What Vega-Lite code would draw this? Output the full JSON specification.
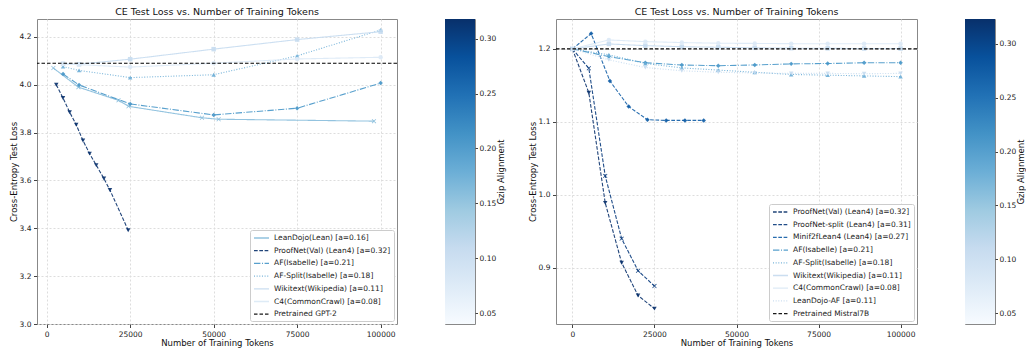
{
  "$schema": "https://vega.github.io/schema/vega-lite/v6.json",
  "padding": {"left": 8, "top": 6, "right": 0, "bottom": 0},
  "background": "white",
  "config": {
    "font": "DejaVu Sans",
    "view": {"stroke": "#888888", "strokeWidth": 1},
    "axis": {
      "labelFont": "DejaVu Sans", "labelFontSize": 7.5, "labelColor": "#222222",
      "titleFont": "DejaVu Sans", "titleFontSize": 8.5, "titleFontWeight": "normal", "titleColor": "#111111",
      "tickColor": "#444444", "tickSize": 3.5, "domain": false,
      "gridColor": "#dddddd", "gridDash": [2, 2], "labelPadding": 2.5, "titlePadding": 1
    },
    "legend": {
      "labelFont": "DejaVu Sans", "labelFontSize": 7.5, "labelColor": "#222222",
      "labelLimit": 300
    },
    "title": {"font": "DejaVu Sans", "fontSize": 9.5, "fontWeight": "normal", "color": "#111111", "offset": 3}
  },
  "datasets": {
    "left": [
      {"series": "LeanDojo(Lean) [a=0.16]", "tokens": 2000, "loss": 4.07},
      {"series": "LeanDojo(Lean) [a=0.16]", "tokens": 9500, "loss": 3.99},
      {"series": "LeanDojo(Lean) [a=0.16]", "tokens": 21500, "loss": 3.935},
      {"series": "LeanDojo(Lean) [a=0.16]", "tokens": 24500, "loss": 3.91},
      {"series": "LeanDojo(Lean) [a=0.16]", "tokens": 46500, "loss": 3.862},
      {"series": "LeanDojo(Lean) [a=0.16]", "tokens": 51500, "loss": 3.856},
      {"series": "LeanDojo(Lean) [a=0.16]", "tokens": 98000, "loss": 3.848},
      {"series": "ProofNet(Val) (Lean4) [a=0.32]", "tokens": 2870, "loss": 4.0},
      {"series": "ProofNet(Val) (Lean4) [a=0.32]", "tokens": 4880, "loss": 3.945},
      {"series": "ProofNet(Val) (Lean4) [a=0.32]", "tokens": 6880, "loss": 3.885},
      {"series": "ProofNet(Val) (Lean4) [a=0.32]", "tokens": 8850, "loss": 3.833},
      {"series": "ProofNet(Val) (Lean4) [a=0.32]", "tokens": 10860, "loss": 3.767},
      {"series": "ProofNet(Val) (Lean4) [a=0.32]", "tokens": 12860, "loss": 3.712},
      {"series": "ProofNet(Val) (Lean4) [a=0.32]", "tokens": 14840, "loss": 3.664},
      {"series": "ProofNet(Val) (Lean4) [a=0.32]", "tokens": 17140, "loss": 3.608},
      {"series": "ProofNet(Val) (Lean4) [a=0.32]", "tokens": 18940, "loss": 3.56},
      {"series": "ProofNet(Val) (Lean4) [a=0.32]", "tokens": 24410, "loss": 3.392},
      {"series": "AF(Isabelle) [a=0.21]", "tokens": 4900, "loss": 4.045},
      {"series": "AF(Isabelle) [a=0.21]", "tokens": 9700, "loss": 3.999},
      {"series": "AF(Isabelle) [a=0.21]", "tokens": 25000, "loss": 3.92},
      {"series": "AF(Isabelle) [a=0.21]", "tokens": 50000, "loss": 3.874},
      {"series": "AF(Isabelle) [a=0.21]", "tokens": 75000, "loss": 3.902},
      {"series": "AF(Isabelle) [a=0.21]", "tokens": 100000, "loss": 4.007},
      {"series": "AF-Split(Isabelle) [a=0.18]", "tokens": 4900, "loss": 4.076},
      {"series": "AF-Split(Isabelle) [a=0.18]", "tokens": 9700, "loss": 4.06},
      {"series": "AF-Split(Isabelle) [a=0.18]", "tokens": 25000, "loss": 4.03},
      {"series": "AF-Split(Isabelle) [a=0.18]", "tokens": 50000, "loss": 4.042},
      {"series": "AF-Split(Isabelle) [a=0.18]", "tokens": 75000, "loss": 4.121},
      {"series": "AF-Split(Isabelle) [a=0.18]", "tokens": 100000, "loss": 4.229},
      {"series": "Wikitext(Wikipedia) [a=0.11]", "tokens": 4900, "loss": 4.088},
      {"series": "Wikitext(Wikipedia) [a=0.11]", "tokens": 9700, "loss": 4.086},
      {"series": "Wikitext(Wikipedia) [a=0.11]", "tokens": 25000, "loss": 4.107},
      {"series": "Wikitext(Wikipedia) [a=0.11]", "tokens": 50000, "loss": 4.149},
      {"series": "Wikitext(Wikipedia) [a=0.11]", "tokens": 75000, "loss": 4.189},
      {"series": "Wikitext(Wikipedia) [a=0.11]", "tokens": 100000, "loss": 4.222},
      {"series": "C4(CommonCrawl) [a=0.08]", "tokens": 4900, "loss": 4.087},
      {"series": "C4(CommonCrawl) [a=0.08]", "tokens": 9700, "loss": 4.084},
      {"series": "C4(CommonCrawl) [a=0.08]", "tokens": 25000, "loss": 4.074},
      {"series": "C4(CommonCrawl) [a=0.08]", "tokens": 50000, "loss": 4.09},
      {"series": "C4(CommonCrawl) [a=0.08]", "tokens": 75000, "loss": 4.108},
      {"series": "C4(CommonCrawl) [a=0.08]", "tokens": 100000, "loss": 4.115}
    ],
    "leftBase": [{"series": "Pretrained GPT-2", "loss": 4.09}],
    "right": [
      {"series": "ProofNet(Val) (Lean4) [a=0.32]", "tokens": 0, "loss": 1.2},
      {"series": "ProofNet(Val) (Lean4) [a=0.32]", "tokens": 5000, "loss": 1.14},
      {"series": "ProofNet(Val) (Lean4) [a=0.32]", "tokens": 10000, "loss": 0.989},
      {"series": "ProofNet(Val) (Lean4) [a=0.32]", "tokens": 15000, "loss": 0.907},
      {"series": "ProofNet(Val) (Lean4) [a=0.32]", "tokens": 20000, "loss": 0.862},
      {"series": "ProofNet(Val) (Lean4) [a=0.32]", "tokens": 25000, "loss": 0.844},
      {"series": "ProofNet-split (Lean4) [a=0.31]", "tokens": 0, "loss": 1.2},
      {"series": "ProofNet-split (Lean4) [a=0.31]", "tokens": 5000, "loss": 1.1735},
      {"series": "ProofNet-split (Lean4) [a=0.31]", "tokens": 10000, "loss": 1.026},
      {"series": "ProofNet-split (Lean4) [a=0.31]", "tokens": 15000, "loss": 0.94},
      {"series": "ProofNet-split (Lean4) [a=0.31]", "tokens": 20000, "loss": 0.896},
      {"series": "ProofNet-split (Lean4) [a=0.31]", "tokens": 25000, "loss": 0.875},
      {"series": "Minif2fLean4 (Lean4) [a=0.27]", "tokens": 0, "loss": 1.2},
      {"series": "Minif2fLean4 (Lean4) [a=0.27]", "tokens": 5714, "loss": 1.221},
      {"series": "Minif2fLean4 (Lean4) [a=0.27]", "tokens": 11429, "loss": 1.156},
      {"series": "Minif2fLean4 (Lean4) [a=0.27]", "tokens": 17143, "loss": 1.121},
      {"series": "Minif2fLean4 (Lean4) [a=0.27]", "tokens": 22857, "loss": 1.103},
      {"series": "Minif2fLean4 (Lean4) [a=0.27]", "tokens": 28571, "loss": 1.102},
      {"series": "Minif2fLean4 (Lean4) [a=0.27]", "tokens": 34286, "loss": 1.102},
      {"series": "Minif2fLean4 (Lean4) [a=0.27]", "tokens": 40000, "loss": 1.102},
      {"series": "AF(Isabelle) [a=0.21]", "tokens": 0, "loss": 1.2},
      {"series": "AF(Isabelle) [a=0.21]", "tokens": 11111, "loss": 1.1895},
      {"series": "AF(Isabelle) [a=0.21]", "tokens": 22222, "loss": 1.181},
      {"series": "AF(Isabelle) [a=0.21]", "tokens": 33333, "loss": 1.178},
      {"series": "AF(Isabelle) [a=0.21]", "tokens": 44444, "loss": 1.177},
      {"series": "AF(Isabelle) [a=0.21]", "tokens": 55556, "loss": 1.178},
      {"series": "AF(Isabelle) [a=0.21]", "tokens": 66667, "loss": 1.1795},
      {"series": "AF(Isabelle) [a=0.21]", "tokens": 77778, "loss": 1.18},
      {"series": "AF(Isabelle) [a=0.21]", "tokens": 88889, "loss": 1.181},
      {"series": "AF(Isabelle) [a=0.21]", "tokens": 100000, "loss": 1.181},
      {"series": "AF-Split(Isabelle) [a=0.18]", "tokens": 0, "loss": 1.2},
      {"series": "AF-Split(Isabelle) [a=0.18]", "tokens": 11111, "loss": 1.192},
      {"series": "AF-Split(Isabelle) [a=0.18]", "tokens": 22222, "loss": 1.18},
      {"series": "AF-Split(Isabelle) [a=0.18]", "tokens": 33333, "loss": 1.174},
      {"series": "AF-Split(Isabelle) [a=0.18]", "tokens": 44444, "loss": 1.171},
      {"series": "AF-Split(Isabelle) [a=0.18]", "tokens": 55556, "loss": 1.168},
      {"series": "AF-Split(Isabelle) [a=0.18]", "tokens": 66667, "loss": 1.165},
      {"series": "AF-Split(Isabelle) [a=0.18]", "tokens": 77778, "loss": 1.164},
      {"series": "AF-Split(Isabelle) [a=0.18]", "tokens": 88889, "loss": 1.163},
      {"series": "AF-Split(Isabelle) [a=0.18]", "tokens": 100000, "loss": 1.162},
      {"series": "Wikitext(Wikipedia) [a=0.11]", "tokens": 0, "loss": 1.2},
      {"series": "Wikitext(Wikipedia) [a=0.11]", "tokens": 11111, "loss": 1.2068},
      {"series": "Wikitext(Wikipedia) [a=0.11]", "tokens": 22222, "loss": 1.2045},
      {"series": "Wikitext(Wikipedia) [a=0.11]", "tokens": 33333, "loss": 1.203},
      {"series": "Wikitext(Wikipedia) [a=0.11]", "tokens": 44444, "loss": 1.2023},
      {"series": "Wikitext(Wikipedia) [a=0.11]", "tokens": 55556, "loss": 1.2015},
      {"series": "Wikitext(Wikipedia) [a=0.11]", "tokens": 66667, "loss": 1.201},
      {"series": "Wikitext(Wikipedia) [a=0.11]", "tokens": 77778, "loss": 1.2008},
      {"series": "Wikitext(Wikipedia) [a=0.11]", "tokens": 88889, "loss": 1.2005},
      {"series": "Wikitext(Wikipedia) [a=0.11]", "tokens": 100000, "loss": 1.2005},
      {"series": "C4(CommonCrawl) [a=0.08]", "tokens": 0, "loss": 1.2},
      {"series": "C4(CommonCrawl) [a=0.08]", "tokens": 11111, "loss": 1.2123},
      {"series": "C4(CommonCrawl) [a=0.08]", "tokens": 22222, "loss": 1.21},
      {"series": "C4(CommonCrawl) [a=0.08]", "tokens": 33333, "loss": 1.2087},
      {"series": "C4(CommonCrawl) [a=0.08]", "tokens": 44444, "loss": 1.2078},
      {"series": "C4(CommonCrawl) [a=0.08]", "tokens": 55556, "loss": 1.2075},
      {"series": "C4(CommonCrawl) [a=0.08]", "tokens": 66667, "loss": 1.2072},
      {"series": "C4(CommonCrawl) [a=0.08]", "tokens": 77778, "loss": 1.207},
      {"series": "C4(CommonCrawl) [a=0.08]", "tokens": 88889, "loss": 1.207},
      {"series": "C4(CommonCrawl) [a=0.08]", "tokens": 100000, "loss": 1.207},
      {"series": "LeanDojo-AF [a=0.11]", "tokens": 0, "loss": 1.2},
      {"series": "LeanDojo-AF [a=0.11]", "tokens": 11111, "loss": 1.185},
      {"series": "LeanDojo-AF [a=0.11]", "tokens": 22222, "loss": 1.1745},
      {"series": "LeanDojo-AF [a=0.11]", "tokens": 33333, "loss": 1.17},
      {"series": "LeanDojo-AF [a=0.11]", "tokens": 44444, "loss": 1.168},
      {"series": "LeanDojo-AF [a=0.11]", "tokens": 55556, "loss": 1.167},
      {"series": "LeanDojo-AF [a=0.11]", "tokens": 66667, "loss": 1.1665},
      {"series": "LeanDojo-AF [a=0.11]", "tokens": 77778, "loss": 1.1665},
      {"series": "LeanDojo-AF [a=0.11]", "tokens": 88889, "loss": 1.166},
      {"series": "LeanDojo-AF [a=0.11]", "tokens": 100000, "loss": 1.1665}
    ],
    "rightBase": [{"series": "Pretrained Mistral7B", "loss": 1.2}],
    "cbarLeft": [{"lo": 0.04, "hi": 0.318}],
    "cbarRight": [{"lo": 0.04, "hi": 0.323}]
  },
  "spacing": 21,
  "hconcat": [
    {
      "bounds": "flush",
      "spacing": 48,
      "resolve": {
        "scale": {"x": "independent", "y": "independent", "color": "independent", "strokeDash": "independent", "shape": "independent"},
        "legend": {"color": "independent", "strokeDash": "independent", "shape": "independent"}
      },
      "hconcat": [
        {
          "width": 360,
          "height": 305,
          "title": "CE Test Loss vs. Number of Training Tokens",
          "encoding": {
            "x": {"field": "tokens", "type": "quantitative",
              "scale": {"domain": [-2900, 104900], "nice": false, "zero": false},
              "axis": {"values": [0, 25000, 50000, 75000, 100000], "format": "d", "title": "Number of Training Tokens"}},
            "y": {"field": "loss", "type": "quantitative",
              "scale": {"domain": [3.0, 4.275], "nice": false, "zero": false},
              "axis": {"values": [3.0, 3.2, 3.4, 3.6, 3.8, 4.0, 4.2], "format": ".1f", "title": "Cross-Entropy Test Loss"}},
            "color": {"field": "series", "type": "nominal",
              "scale": {
                "domain": ["LeanDojo(Lean) [a=0.16]", "ProofNet(Val) (Lean4) [a=0.32]", "AF(Isabelle) [a=0.21]", "AF-Split(Isabelle) [a=0.18]", "Wikitext(Wikipedia) [a=0.11]", "C4(CommonCrawl) [a=0.08]", "Pretrained GPT-2"],
                "range": ["#87bddc", "#08306b", "#4696c8", "#6aadd6", "#c6dbef", "#dbe9f6", "#000000"]},
              "legend": {"title": null, "orient": "bottom-right", "offset": 3, "fillColor": "white", "strokeColor": "#cccccc", "cornerRadius": 2, "padding": 3, "rowPadding": 3.7, "symbolType": "M-1,0L2.75,0", "symbolSize": 64, "symbolStrokeWidth": 1.3, "labelOffset": 11}},
            "strokeDash": {"field": "series", "type": "nominal",
              "scale": {
                "domain": ["LeanDojo(Lean) [a=0.16]", "ProofNet(Val) (Lean4) [a=0.32]", "AF(Isabelle) [a=0.21]", "AF-Split(Isabelle) [a=0.18]", "Wikitext(Wikipedia) [a=0.11]", "C4(CommonCrawl) [a=0.08]", "Pretrained GPT-2"],
                "range": [[1, 0], [3.7, 1.6], [6.4, 1.6, 1, 1.6], [1, 1.65], [1, 0], [1, 0], [3.5, 2]]},
              "legend": {"title": null, "orient": "bottom-right", "offset": 3, "fillColor": "white", "strokeColor": "#cccccc", "cornerRadius": 2, "padding": 3, "rowPadding": 3.7, "symbolType": "M-1,0L2.75,0", "symbolSize": 64, "symbolStrokeWidth": 1.3, "labelOffset": 11}}
          },
          "layer": [
            {
              "data": {"name": "left"},
              "mark": {"type": "line", "strokeWidth": 1.1, "opacity": 0.9}
            },
            {
              "data": {"name": "left"},
              "mark": {"type": "point", "filled": true, "size": 20, "opacity": 0.9},
              "encoding": {
                "strokeDash": {"value": [1, 0]},
                "shape": {"field": "series", "type": "nominal", "legend": null,
                  "scale": {
                    "domain": ["LeanDojo(Lean) [a=0.16]", "ProofNet(Val) (Lean4) [a=0.32]", "AF(Isabelle) [a=0.21]", "AF-Split(Isabelle) [a=0.18]", "Wikitext(Wikipedia) [a=0.11]", "C4(CommonCrawl) [a=0.08]"],
                    "range": ["M-1,-0.75L-0.75,-1L0,-0.25L0.75,-1L1,-0.75L0.25,0L1,0.75L0.75,1L0,0.25L-0.75,1L-1,0.75L-0.25,0Z", "triangle-down", "diamond", "triangle-up", "square", "circle"]}}
              }
            },
            {
              "data": {"name": "leftBase"},
              "mark": {"type": "rule", "strokeWidth": 1.2},
              "encoding": {"x": null}
            }
          ]
        },
        {
          "width": 30,
          "height": 305,
          "data": {"name": "cbarLeft"},
          "mark": {"type": "rect", "color": {"gradient": "linear", "x1": 0, "y1": 1, "x2": 0, "y2": 0,
            "stops": [
              {"offset": 0, "color": "#f7fbff"}, {"offset": 0.125, "color": "#deebf7"}, {"offset": 0.25, "color": "#c6dbef"},
              {"offset": 0.375, "color": "#9ecae1"}, {"offset": 0.5, "color": "#6baed6"}, {"offset": 0.625, "color": "#4292c6"},
              {"offset": 0.75, "color": "#2171b5"}, {"offset": 0.875, "color": "#08519c"}, {"offset": 1, "color": "#08306b"}]}},
          "encoding": {
            "x": {"value": 0},
            "x2": {"value": "width"},
            "y": {"field": "lo", "type": "quantitative",
              "scale": {"domain": [0.04, 0.318], "nice": false, "zero": false},
              "axis": {"orient": "right", "grid": false, "values": [0.05, 0.1, 0.15, 0.2, 0.25, 0.3], "format": ".2f", "title": "Gzip Alignment", "titleAngle": 270, "titleBaseline": "top", "titlePadding": 0.5, "tickSize": 2.5, "labelPadding": 1.5}},
            "y2": {"field": "hi"}
          }
        }
      ]
    },
    {
      "bounds": "flush",
      "spacing": 48,
      "resolve": {
        "scale": {"x": "independent", "y": "independent", "color": "independent", "strokeDash": "independent", "shape": "independent"},
        "legend": {"color": "independent", "strokeDash": "independent", "shape": "independent"}
      },
      "hconcat": [
        {
          "width": 361,
          "height": 305,
          "title": "CE Test Loss vs. Number of Training Tokens",
          "encoding": {
            "x": {"field": "tokens", "type": "quantitative",
              "scale": {"domain": [-5000, 105000], "nice": false, "zero": false},
              "axis": {"values": [0, 25000, 50000, 75000, 100000], "format": "d", "title": "Number of Training Tokens"}},
            "y": {"field": "loss", "type": "quantitative",
              "scale": {"domain": [0.823, 1.241], "nice": false, "zero": false},
              "axis": {"values": [0.9, 1.0, 1.1, 1.2], "format": ".1f", "title": "Cross-Entropy Test Loss"}},
            "color": {"field": "series", "type": "nominal",
              "scale": {
                "domain": ["ProofNet(Val) (Lean4) [a=0.32]", "ProofNet-split (Lean4) [a=0.31]", "Minif2fLean4 (Lean4) [a=0.27]", "AF(Isabelle) [a=0.21]", "AF-Split(Isabelle) [a=0.18]", "Wikitext(Wikipedia) [a=0.11]", "C4(CommonCrawl) [a=0.08]", "LeanDojo-AF [a=0.11]", "Pretrained Mistral7B"],
                "range": ["#08306b", "#083a7c", "#115da6", "#4696c8", "#6aadd6", "#c6dbef", "#dbe9f6", "#c6dbef", "#000000"]},
              "legend": {"title": null, "orient": "bottom-right", "offset": 3, "fillColor": "white", "strokeColor": "#cccccc", "cornerRadius": 2, "padding": 3, "rowPadding": 3.7, "symbolType": "M-1,0L2.75,0", "symbolSize": 64, "symbolStrokeWidth": 1.3, "labelOffset": 11}},
            "strokeDash": {"field": "series", "type": "nominal",
              "scale": {
                "domain": ["ProofNet(Val) (Lean4) [a=0.32]", "ProofNet-split (Lean4) [a=0.31]", "Minif2fLean4 (Lean4) [a=0.27]", "AF(Isabelle) [a=0.21]", "AF-Split(Isabelle) [a=0.18]", "Wikitext(Wikipedia) [a=0.11]", "C4(CommonCrawl) [a=0.08]", "LeanDojo-AF [a=0.11]", "Pretrained Mistral7B"],
                "range": [[3.7, 1.6], [3.7, 1.6], [3.7, 1.6], [6.4, 1.6, 1, 1.6], [1, 1.65], [1, 0], [1, 0], [1, 1.65], [3.5, 2]]},
              "legend": {"title": null, "orient": "bottom-right", "offset": 3, "fillColor": "white", "strokeColor": "#cccccc", "cornerRadius": 2, "padding": 3, "rowPadding": 3.7, "symbolType": "M-1,0L2.75,0", "symbolSize": 64, "symbolStrokeWidth": 1.3, "labelOffset": 11}}
          },
          "layer": [
            {
              "data": {"name": "right"},
              "mark": {"type": "line", "strokeWidth": 1.1, "opacity": 0.9}
            },
            {
              "data": {"name": "right"},
              "mark": {"type": "point", "filled": true, "size": 20, "opacity": 0.9},
              "encoding": {
                "strokeDash": {"value": [1, 0]},
                "shape": {"field": "series", "type": "nominal", "legend": null,
                  "scale": {
                    "domain": ["ProofNet(Val) (Lean4) [a=0.32]", "ProofNet-split (Lean4) [a=0.31]", "Minif2fLean4 (Lean4) [a=0.27]", "AF(Isabelle) [a=0.21]", "AF-Split(Isabelle) [a=0.18]", "Wikitext(Wikipedia) [a=0.11]", "C4(CommonCrawl) [a=0.08]", "LeanDojo-AF [a=0.11]"],
                    "range": ["triangle-down", "M-1,-0.75L-0.75,-1L0,-0.25L0.75,-1L1,-0.75L0.25,0L1,0.75L0.75,1L0,0.25L-0.75,1L-1,0.75L-0.25,0Z", "diamond", "diamond", "triangle-up", "square", "circle", "triangle-down"]}}
              }
            },
            {
              "data": {"name": "rightBase"},
              "mark": {"type": "rule", "strokeWidth": 1.2},
              "encoding": {"x": null}
            }
          ]
        },
        {
          "width": 30,
          "height": 305,
          "data": {"name": "cbarRight"},
          "mark": {"type": "rect", "color": {"gradient": "linear", "x1": 0, "y1": 1, "x2": 0, "y2": 0,
            "stops": [
              {"offset": 0, "color": "#f7fbff"}, {"offset": 0.125, "color": "#deebf7"}, {"offset": 0.25, "color": "#c6dbef"},
              {"offset": 0.375, "color": "#9ecae1"}, {"offset": 0.5, "color": "#6baed6"}, {"offset": 0.625, "color": "#4292c6"},
              {"offset": 0.75, "color": "#2171b5"}, {"offset": 0.875, "color": "#08519c"}, {"offset": 1, "color": "#08306b"}]}},
          "encoding": {
            "x": {"value": 0},
            "x2": {"value": "width"},
            "y": {"field": "lo", "type": "quantitative",
              "scale": {"domain": [0.04, 0.323], "nice": false, "zero": false},
              "axis": {"orient": "right", "grid": false, "values": [0.05, 0.1, 0.15, 0.2, 0.25, 0.3], "format": ".2f", "title": "Gzip Alignment", "titleAngle": 270, "titleBaseline": "top", "titlePadding": 0.5, "tickSize": 2.5, "labelPadding": 1.5}},
            "y2": {"field": "hi"}
          }
        }
      ]
    }
  ],
  "resolve": {
    "scale": {"x": "independent", "y": "independent", "color": "independent", "strokeDash": "independent", "shape": "independent"},
    "legend": {"color": "independent", "strokeDash": "independent", "shape": "independent"}
  }
}
